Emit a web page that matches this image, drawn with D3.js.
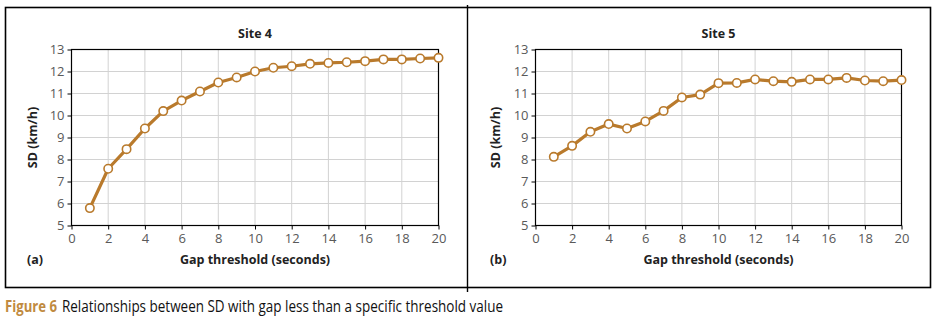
<!DOCTYPE html>
<html>
<head>
<meta charset="utf-8">
<script src="https://cdn.jsdelivr.net/npm/d3@7"></script>
<style>
  body { margin: 0; background: #fff; }
  svg { display: block; font-family: "Open Sans", "Noto Sans", sans-serif; }
</style>
</head>
<body>
<div id="chart"></div>
<script>
// Gap threshold (seconds)
const thresholds = [1, 2, 3, 4, 5, 6, 7, 8, 9, 10, 11, 12, 13, 14, 15, 16, 17, 18, 19, 20];
// SD (km/h) per site
const site4 = [5.79, 7.58, 8.47, 9.41, 10.2, 10.68, 11.09, 11.5, 11.73, 12.0,
               12.17, 12.24, 12.35, 12.39, 12.42, 12.47, 12.55, 12.55, 12.59, 12.62];
const site5 = [8.12, 8.62, 9.26, 9.61, 9.41, 9.73, 10.21, 10.82, 10.95, 11.47,
               11.48, 11.64, 11.56, 11.53, 11.64, 11.64, 11.71, 11.59, 11.56, 11.61];
const xTicks = [0, 2, 4, 6, 8, 10, 12, 14, 16, 18, 20];
const yTicks = [5, 6, 7, 8, 9, 10, 11, 12, 13];

const panels = [
  { title: "Site 4", tag: "(a)", values: site4, left: 5, plot: [71, 438] },
  { title: "Site 5", tag: "(b)", values: site5, left: 468, plot: [535, 901] }
];

const lineColor = "#b97a2c";
const W = 936, H = 325;
const plotTop = 49.5, plotBottom = 225.5;

const svg = d3.select("#chart").append("svg")
    .attr("width", W)
    .attr("height", H);

// outer frame + divider
svg.append("rect")
    .attr("x", 5.5).attr("y", 7.5)
    .attr("width", 925).attr("height", 280)
    .attr("fill", "none")
    .attr("stroke", "#000")
    .attr("stroke-width", 1.6);
svg.append("line")
    .attr("x1", 467.5).attr("x2", 467.5)
    .attr("y1", 5).attr("y2", 292)
    .attr("stroke", "#000")
    .attr("stroke-width", 1.4);

panels.forEach(p => {
    const g = svg.append("g");

    const x = d3.scaleLinear().domain([0, 20]).range([p.plot[0] + 0.5, p.plot[1] + 0.5]);
    const y = d3.scaleLinear().domain([5, 13]).range([plotBottom, plotTop]);

    // grid
    g.append("g").selectAll("line")
        .data(yTicks.slice(1, -1))
        .join("line")
        .attr("x1", x(0)).attr("x2", x(20))
        .attr("y1", d => y(d)).attr("y2", d => y(d))
        .attr("stroke", "#d2d2d2");
    g.append("g").selectAll("line")
        .data(xTicks.slice(1, -1))
        .join("line")
        .attr("x1", d => x(d)).attr("x2", d => x(d))
        .attr("y1", y(5)).attr("y2", y(13))
        .attr("stroke", "#d2d2d2");

    // axes
    const xAxis = g.append("g")
        .attr("transform", `translate(0,${y(5)})`)
        .call(d3.axisBottom(x).tickValues(xTicks).tickSize(4).tickPadding(4));
    const yAxis = g.append("g")
        .attr("transform", `translate(${x(0)},0)`)
        .call(d3.axisLeft(y).tickValues(yTicks).tickSize(4).tickPadding(3));
    [xAxis, yAxis].forEach(a => {
        a.select(".domain").remove();
        a.selectAll("line").attr("stroke", "#000");
        a.selectAll("text")
            .attr("fill", "#595959")
            .style("font-size", "13px")
            .style("font-family", "'Open Sans', sans-serif");
    });

    // plot frame
    g.append("rect")
        .attr("x", x(0)).attr("y", y(13))
        .attr("width", x(20) - x(0))
        .attr("height", y(5) - y(13))
        .attr("fill", "none")
        .attr("stroke", "#000")
        .attr("stroke-width", 1.2);

    // series
    const pts = thresholds.map((t, i) => [t, p.values[i]]);
    g.append("path")
        .datum(pts)
        .attr("fill", "none")
        .attr("stroke", lineColor)
        .attr("stroke-width", 3.2)
        .attr("stroke-linejoin", "round")
        .attr("d", d3.line().x(d => x(d[0])).y(d => y(d[1])));
    g.append("g").selectAll("circle")
        .data(pts)
        .join("circle")
        .attr("cx", d => x(d[0]))
        .attr("cy", d => y(d[1]))
        .attr("r", 4.2)
        .attr("fill", "#fff")
        .attr("stroke", lineColor)
        .attr("stroke-width", 1.6);

    // titles
    g.append("text")
        .attr("x", (x(0) + x(20)) / 2)
        .attr("y", 38)
        .attr("text-anchor", "middle")
        .style("font-size", "12.5px")
        .style("font-weight", "bold")
        .attr("fill", "#222")
        .text(p.title);

    g.append("text")
        .attr("x", (x(0) + x(20)) / 2)
        .attr("y", 264)
        .attr("text-anchor", "middle")
        .style("font-size", "12.5px")
        .style("font-weight", "bold")
        .attr("fill", "#222")
        .text("Gap threshold (seconds)");

    g.append("text")
        .attr("x", p.left + 22)
        .attr("y", 264)
        .style("font-size", "12.5px")
        .style("font-weight", "bold")
        .attr("fill", "#222")
        .text(p.tag);

    g.append("text")
        .attr("transform", `translate(${p.left + 32},${(y(5) + y(13)) / 2}) rotate(-90)`)
        .attr("text-anchor", "middle")
        .style("font-size", "12.5px")
        .style("font-weight", "bold")
        .attr("fill", "#222")
        .text("SD (km/h)");
});

// caption
svg.append("text")
    .attr("x", 5)
    .attr("y", 312)
    .attr("textLength", 52)
    .attr("lengthAdjust", "spacingAndGlyphs")
    .style("font-size", "15.5px")
    .style("font-weight", "bold")
    .attr("fill", "#c08a40")
    .text("Figure 6");
svg.append("text")
    .attr("x", 62)
    .attr("y", 312)
    .attr("textLength", 441)
    .attr("lengthAdjust", "spacingAndGlyphs")
    .style("font-size", "15.5px")
    .attr("fill", "#111")
    .text("Relationships between SD with gap less than a specific threshold value");
</script>
</body>
</html>
